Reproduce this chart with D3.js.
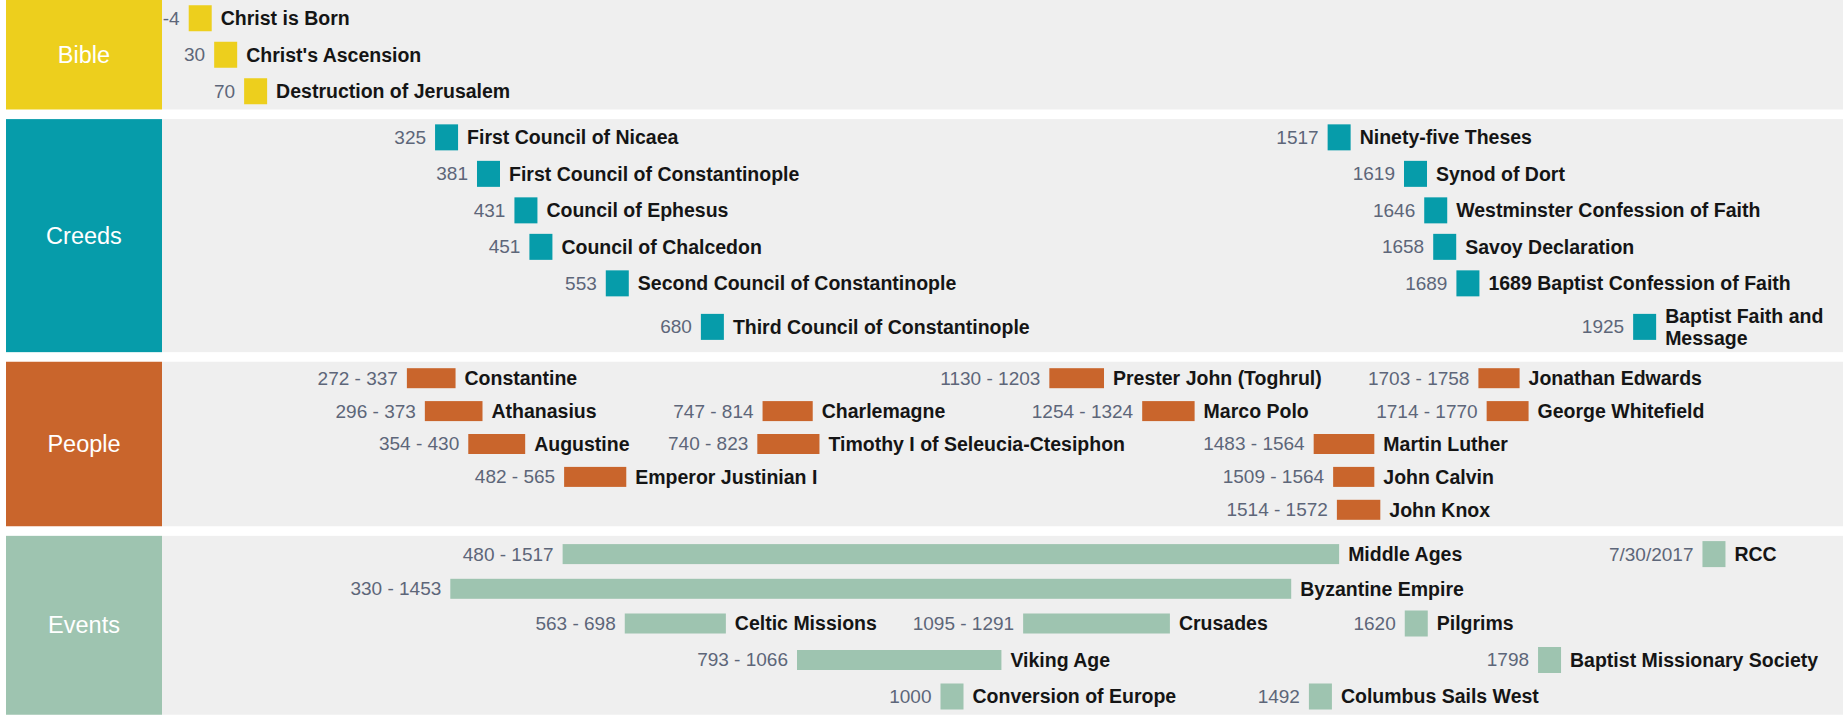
<!DOCTYPE html>
<html>
<head>
<meta charset="utf-8">
<script src="https://cdn.jsdelivr.net/npm/d3@7"></script>
<style>
  html, body { margin: 0; padding: 0; background: #ffffff; }
  svg { display: block; }
</style>
</head>
<body>
<svg id="chart" width="1843" height="715"></svg>
<script>
// ---------------- DATA ----------------
const bandNames = ["Bible", "Creeds", "People", "Events"];

const bibleNames = ["Christ is Born", "Christ's Ascension", "Destruction of Jerusalem"];
const bibleStart = [-4, 30, 70];
const bibleEnd   = [null, null, null];
const bibleLane  = [0, 1, 2];

const creedNames = ["First Council of Nicaea", "First Council of Constantinople", "Council of Ephesus",
  "Council of Chalcedon", "Second Council of Constantinople", "Third Council of Constantinople",
  "Ninety-five Theses", "Synod of Dort", "Westminster Confession of Faith", "Savoy Declaration",
  "1689 Baptist Confession of Faith", "Baptist Faith and Message"];
const creedStart = [325, 381, 431, 451, 553, 680, 1517, 1619, 1646, 1658, 1689, 1925];
const creedEnd   = [null, null, null, null, null, null, null, null, null, null, null, null];
const creedLane  = [0, 1, 2, 3, 4, 5, 0, 1, 2, 3, 4, 5];

const peopleNames = ["Constantine", "Athanasius", "Augustine", "Emperor Justinian I", "Charlemagne",
  "Timothy I of Seleucia-Ctesiphon", "Prester John (Toghrul)", "Marco Polo", "Martin Luther",
  "John Calvin", "John Knox", "Jonathan Edwards", "George Whitefield"];
const peopleStart = [272, 296, 354, 482, 747, 740, 1130, 1254, 1483, 1509, 1514, 1703, 1714];
const peopleEnd   = [337, 373, 430, 565, 814, 823, 1203, 1324, 1564, 1564, 1572, 1758, 1770];
const peopleLane  = [0, 1, 2, 3, 1, 2, 0, 1, 2, 3, 4, 0, 1];

const eventNames = ["Middle Ages", "RCC", "Byzantine Empire", "Celtic Missions", "Crusades", "Pilgrims",
  "Viking Age", "Baptist Missionary Society", "Conversion of Europe", "Columbus Sails West"];
const eventStart = [480, "7/30/2017", 330, 563, 1095, 1620, 793, 1798, 1000, 1492];
const eventEnd   = [1517, null, 1453, 698, 1291, null, 1066, null, null, null];
const eventLane  = [0, 0, 1, 2, 2, 2, 3, 3, 4, 4];

// ---------------- STYLE / LAYOUT ----------------
const W = 1843, H = 715;
const bandColors = ["#EDCF1D", "#069CAA", "#C9652C", "#9EC4B0"];
const panelX = 6, panelW = 156;
const bandGap = 9.6;
const squareW = 23, squareH = 26, barH = 20;
const rowSquare = 36.5, rowBar = 32.9, lineH = 22.3;
const labelGap = 9;
const nameFont = "bold 19.5px 'Liberation Sans', Arial, sans-serif";
const dateFont = "19px 'Liberation Sans', Arial, sans-serif";

function toYear(v) {
  if (typeof v === "string") {
    const [m, d, y] = v.split("/").map(Number);
    const t0 = Date.UTC(y, 0, 1), t1 = Date.UTC(y + 1, 0, 1);
    return y + (Date.UTC(y, m - 1, d) - t0) / (t1 - t0);
  }
  return v;
}

function buildItems(names, starts, ends, lanes) {
  return names.map((n, i) => ({
    name: n,
    startRaw: starts[i],
    start: toYear(starts[i]),
    end: ends[i],
    lane: lanes[i]
  }));
}

const bandsData = [
  buildItems(bibleNames, bibleStart, bibleEnd, bibleLane),
  buildItems(creedNames, creedStart, creedEnd, creedLane),
  buildItems(peopleNames, peopleStart, peopleEnd, peopleLane),
  buildItems(eventNames, eventStart, eventEnd, eventLane)
];

const x = d3.scaleLinear().domain([0, 2000]).range([203.2, 1700.8]);

const svg = d3.select("#chart");
const measure = svg.append("text").attr("visibility", "hidden");
function textWidth(str, font) {
  measure.style("font", font).text(str);
  return measure.node().getComputedTextLength();
}

// wrap name labels that would run past the right edge
bandsData.forEach(items => items.forEach(d => {
  const right = d.end == null ? x(d.start) + squareW / 2 : x(d.end);
  d.labelX = right + labelGap;
  const words = d.name.split(" ");
  const lines = [];
  let cur = "";
  words.forEach(w => {
    const t = cur ? cur + " " + w : w;
    if (cur && d.labelX + textWidth(t, nameFont) > W - 10) { lines.push(cur); cur = w; }
    else cur = t;
  });
  lines.push(cur);
  d.lines = lines;
}));

// lane heights
let y0 = 0;
const bandLayout = bandsData.map((items, bi) => {
  const nLanes = d3.max(items, d => d.lane) + 1;
  const laneH = d3.range(nLanes).map(l => {
    const its = items.filter(d => d.lane === l);
    const h = d3.max(its, d => d.end == null ? rowSquare : rowBar);
    const extra = d3.max(its, d => (d.lines.length - 1) * lineH * 0.63);
    return h + extra;
  });
  const laneY = [];
  let acc = y0;
  laneH.forEach(h => { laneY.push(acc + h / 2); acc += h; });
  const out = { top: y0, height: acc - y0, laneY };
  y0 = acc + bandGap;
  return out;
});

// bands
const g = svg.append("g");
bandLayout.forEach((b, bi) => {
  g.append("rect").attr("x", panelX + panelW).attr("y", b.top)
    .attr("width", W - panelX - panelW).attr("height", b.height).attr("fill", "#EFEFEF");
  g.append("rect").attr("x", panelX).attr("y", b.top)
    .attr("width", panelW).attr("height", b.height).attr("fill", bandColors[bi]);
  g.append("text").attr("x", panelX + panelW / 2).attr("y", b.top + b.height / 2)
    .attr("text-anchor", "middle").attr("dominant-baseline", "central")
    .style("font", "23.5px 'Liberation Sans', Arial, sans-serif").attr("fill", "#ffffff")
    .text(bandNames[bi]);

  const items = bandsData[bi];
  const ig = g.append("g");
  const sel = ig.selectAll("g.item").data(items).join("g").attr("class", "item");

  sel.append("rect")
    .attr("x", d => d.end == null ? x(d.start) - squareW / 2 : x(d.start))
    .attr("y", d => b.laneY[d.lane] - (d.end == null ? squareH : barH) / 2)
    .attr("width", d => d.end == null ? squareW : x(d.end) - x(d.start))
    .attr("height", d => d.end == null ? squareH : barH)
    .attr("fill", bandColors[bi]);

  sel.append("text")
    .attr("x", d => (d.end == null ? x(d.start) - squareW / 2 : x(d.start)) - labelGap)
    .attr("y", d => b.laneY[d.lane])
    .attr("text-anchor", "end").attr("dominant-baseline", "central")
    .style("font", dateFont).attr("fill", "#5D6679")
    .text(d => d.end == null ? String(d.startRaw) : d.startRaw + " - " + d.end);

  sel.each(function(d) {
    const t = d3.select(this).append("text")
      .attr("x", d.labelX)
      .attr("dominant-baseline", "central")
      .style("font", nameFont).attr("fill", "#151515");
    const n = d.lines.length;
    d.lines.forEach((ln, k) => {
      t.append("tspan").attr("x", d.labelX)
        .attr("y", b.laneY[d.lane] + (k - (n - 1) / 2) * lineH)
        .text(ln);
    });
  });
});
measure.remove();
</script>
</body>
</html>
